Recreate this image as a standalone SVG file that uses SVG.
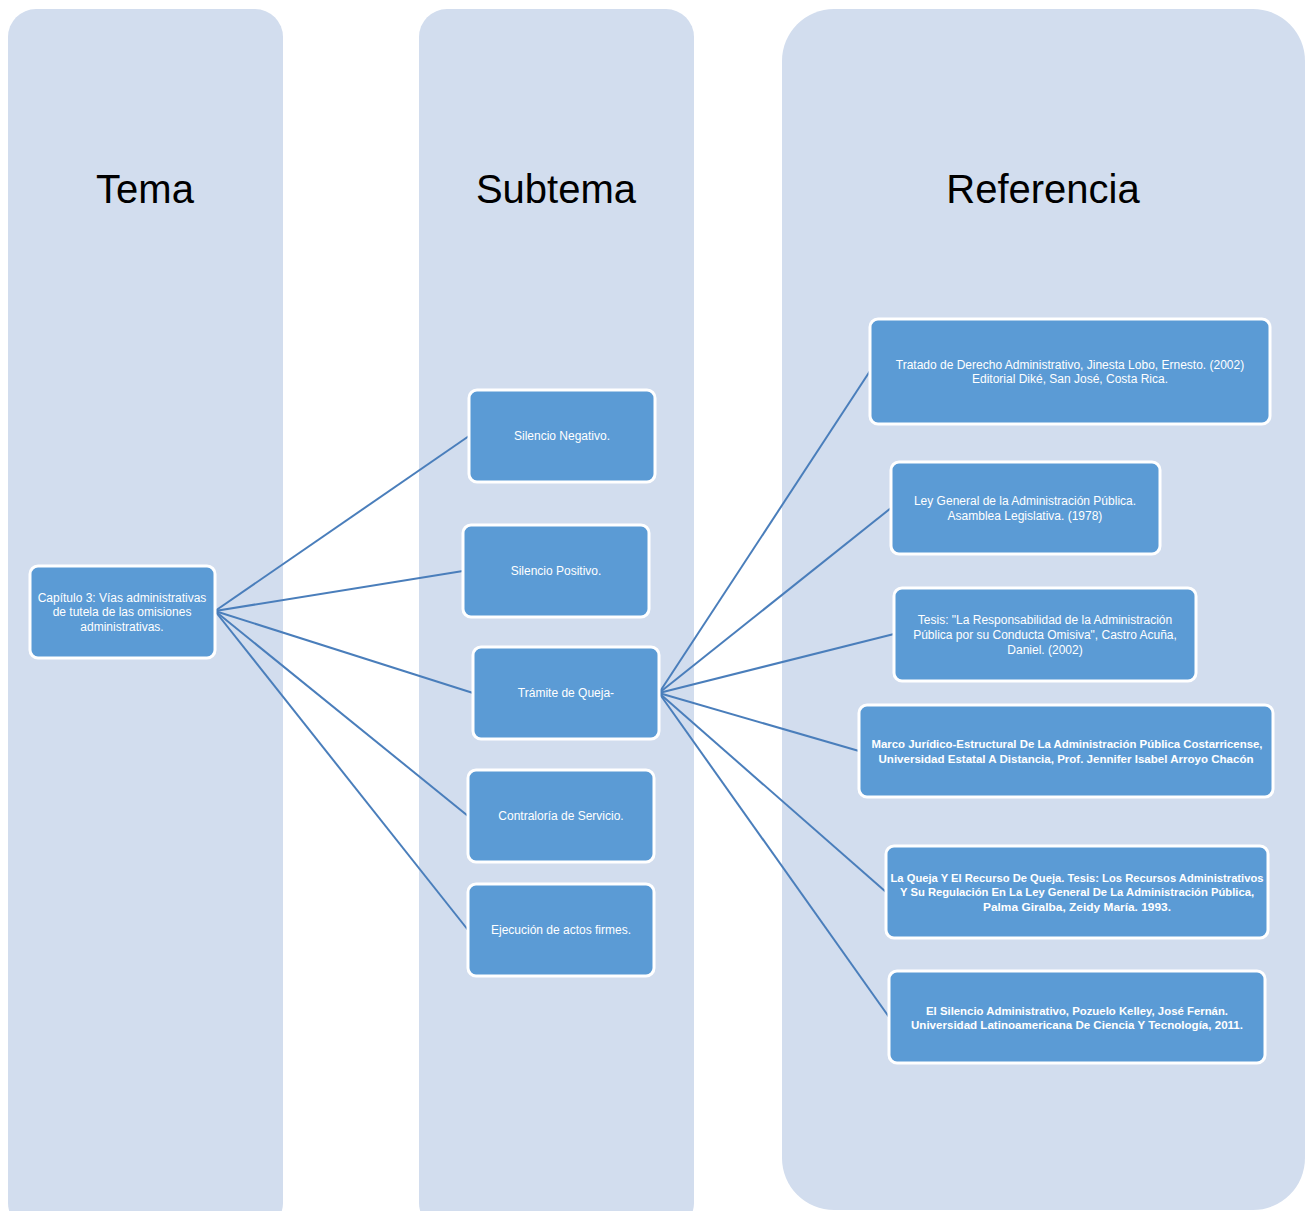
<svg xmlns="http://www.w3.org/2000/svg" width="1307" height="1211" viewBox="0 0 1307 1211">
  <style>
    .col { fill: #D2DDEE; }
    .title { font-family: "Liberation Sans", Arial, sans-serif; font-size: 40px; fill: #000; text-anchor: middle; }
    .box { fill: #5B9BD5; stroke: #FFFFFF; stroke-width: 3; }
    .lbl { font-family: "Liberation Sans", Arial, sans-serif; font-size: 12px; fill: #FFFFFF; text-anchor: middle; }
    .bold { font-weight: bold; font-size: 11px; }
    .link { stroke: #4A7EBB; stroke-width: 2; fill: none; }
  </style>

  <rect width="1307" height="1211" fill="#FFFFFF"/>

  <!-- column panels -->
  <g id="columns">
    <rect class="col" x="8" y="9" width="275" height="1222" rx="28"/>
    <rect class="col" x="419" y="9" width="275" height="1222" rx="28"/>
    <rect class="col" x="782" y="9" width="523" height="1201" rx="52"/>
    <text class="title" x="145" y="203">Tema</text>
    <text class="title" x="556" y="203">Subtema</text>
    <text class="title" x="1043" y="203">Referencia</text>
  </g>

  <!-- connectors -->
  <g id="connectors">
    <line class="link" x1="215" y1="611" x2="469" y2="436"/>
    <line class="link" x1="215" y1="611" x2="463" y2="571"/>
    <line class="link" x1="215" y1="611" x2="473" y2="693"/>
    <line class="link" x1="215" y1="611" x2="468" y2="816"/>
    <line class="link" x1="215" y1="611" x2="468" y2="930"/>
    <line class="link" x1="659" y1="693" x2="870" y2="371"/>
    <line class="link" x1="659" y1="693" x2="891" y2="508"/>
    <line class="link" x1="659" y1="693" x2="894" y2="634"/>
    <line class="link" x1="659" y1="693" x2="859" y2="751"/>
    <line class="link" x1="659" y1="693" x2="886" y2="892"/>
    <line class="link" x1="659" y1="693" x2="889" y2="1017"/>
  </g>

  <g id="tema">
    <rect class="box" x="30" y="566" width="185" height="92" rx="8"/>
    <text class="lbl" x="122" y="602">Capítulo 3: Vías administrativas</text>
    <text class="lbl" x="122" y="616">de tutela de las omisiones</text>
    <text class="lbl" x="122" y="631">administrativas.</text>
  </g>

  <g id="silencio-negativo">
    <rect class="box" x="469" y="390" width="186" height="92" rx="8"/>
    <text class="lbl" x="562" y="440">Silencio Negativo.</text>
  </g>
  <g id="silencio-positivo">
    <rect class="box" x="463" y="525" width="186" height="92" rx="8"/>
    <text class="lbl" x="556" y="575">Silencio Positivo.</text>
  </g>
  <g id="tramite-queja">
    <rect class="box" x="473" y="647" width="186" height="92" rx="8"/>
    <text class="lbl" x="566" y="697">Trámite de Queja-</text>
  </g>
  <g id="contraloria">
    <rect class="box" x="468" y="770" width="186" height="92" rx="8"/>
    <text class="lbl" x="561" y="820">Contraloría de Servicio.</text>
  </g>
  <g id="ejecucion">
    <rect class="box" x="468" y="884" width="186" height="92" rx="8"/>
    <text class="lbl" x="561" y="934">Ejecución de actos firmes.</text>
  </g>

  <g id="ref-tratado">
    <rect class="box" x="870" y="319" width="400" height="105" rx="8"/>
    <text class="lbl" x="1070" y="369">Tratado de Derecho Administrativo, Jinesta Lobo, Ernesto. (2002)</text>
    <text class="lbl" x="1070" y="383">Editorial Diké, San José, Costa Rica.</text>
  </g>
  <g id="ref-ley-general">
    <rect class="box" x="891" y="462" width="269" height="92" rx="8"/>
    <text class="lbl" x="1025" y="505">Ley General de la Administración Pública.</text>
    <text class="lbl" x="1025" y="520">Asamblea Legislativa. (1978)</text>
  </g>
  <g id="ref-tesis-castro">
    <rect class="box" x="894" y="588" width="302" height="93" rx="8"/>
    <text class="lbl" x="1045" y="624">Tesis: "La Responsabilidad de la Administración</text>
    <text class="lbl" x="1045" y="639">Pública por su Conducta Omisiva", Castro Acuña,</text>
    <text class="lbl" x="1045" y="654">Daniel. (2002)</text>
  </g>
  <g id="ref-marco-juridico">
    <rect class="box" x="859" y="705" width="414" height="92" rx="8"/>
    <text class="lbl bold" x="1067" y="748" textLength="391" lengthAdjust="spacingAndGlyphs">Marco Jurídico-Estructural De La Administración Pública Costarricense,</text>
    <text class="lbl bold" x="1066" y="763" textLength="375" lengthAdjust="spacingAndGlyphs">Universidad Estatal A Distancia,  Prof. Jennifer Isabel Arroyo Chacón</text>
  </g>
  <g id="ref-queja">
    <rect class="box" x="886" y="846" width="382" height="92" rx="8"/>
    <text class="lbl bold" x="1077" y="882" textLength="373" lengthAdjust="spacingAndGlyphs">La Queja Y El Recurso De Queja. Tesis: Los Recursos Administrativos</text>
    <text class="lbl bold" x="1077" y="896" textLength="354" lengthAdjust="spacingAndGlyphs">Y Su Regulación En La Ley General De La Administración Pública,</text>
    <text class="lbl bold" x="1077" y="911" textLength="188" lengthAdjust="spacingAndGlyphs">Palma Giralba, Zeidy María. 1993.</text>
  </g>
  <g id="ref-silencio">
    <rect class="box" x="889" y="971" width="376" height="92" rx="8"/>
    <text class="lbl bold" x="1077" y="1015" textLength="302" lengthAdjust="spacingAndGlyphs">El Silencio Administrativo, Pozuelo Kelley, José Fernán.</text>
    <text class="lbl bold" x="1077" y="1029" textLength="332" lengthAdjust="spacingAndGlyphs">Universidad Latinoamericana De Ciencia Y Tecnología, 2011.</text>
  </g>
</svg>
